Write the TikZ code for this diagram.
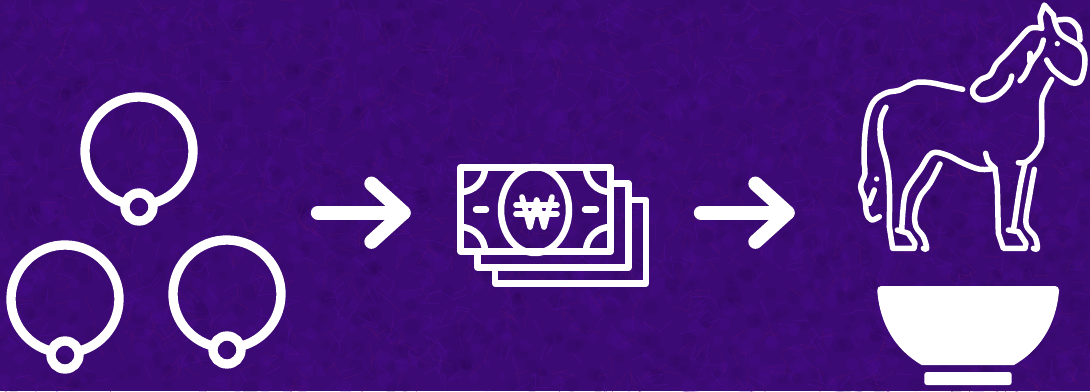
\documentclass[tikz,border=0pt]{standalone}
\usepackage{tikz}
\usetikzlibrary{positioning}
\definecolor{feltbase}{HTML}{3C0A74}
\definecolor{feltdark}{HTML}{280650}
\definecolor{feltlight}{HTML}{5410A0}
\definecolor{feltred}{HTML}{5C1070}
\begin{document}
\begin{tikzpicture}[x=0.03cm, y=-0.03cm, line cap=round, line join=round,
    ringline/.style={draw=white, line width=0.28cm},
    beadline/.style={draw=white, line width=0.28cm},
    flowline/.style={draw=white, line width=0.43cm},
    billline/.style={draw=white, line width=0.195cm},
    wonline/.style={draw=white, line width=0.17cm},
    horseline/.style={draw=white, line width=0.165cm},
    fibre/.style={line width=0.6pt, opacity=0.45},
    blotch/.style={opacity=0.16}]
% ---------------- background ----------------
\fill[feltbase] (0,0) rectangle (1090,391);
\useasboundingbox (0,0) rectangle (1090,391);
\pgfmathsetseed{41}
\begin{scope}
  \clip (0,0) rectangle (1090,391);
  \foreach \i in {1,...,1800} {
    \pgfmathsetmacro{\fx}{rnd*1090}
    \pgfmathsetmacro{\fy}{rnd*391}
    \pgfmathsetmacro{\fr}{3+rnd*5}
    \ifodd\i \def\fc{feltdark}\else \def\fc{feltlight}\fi
    \fill[blotch, fill=\fc] (\fx,\fy) circle (\fr);
  }
  \foreach \i in {1,...,1800} {
    \pgfmathsetmacro{\fx}{rnd*1090}
    \pgfmathsetmacro{\fy}{rnd*391}
    \pgfmathsetmacro{\fa}{rnd*360}
    \pgfmathsetmacro{\fb}{\fa+rnd*120-60}
    \ifodd\i \def\fc{feltred}\else \def\fc{feltlight}\fi
    \draw[fibre, draw=\fc] (\fx,\fy) .. controls +(\fa:6) and +(\fb:6) .. +(\fa:14);
  }
\end{scope}
% ---------------- rings (left) ----------------
\foreach \cx/\cy in {139/151, 65/299, 227/294} {
  \draw[ringline] (\cx,\cy) ++(108:54) arc[start angle=108, end angle=432, radius=54];
  \draw[beadline] (\cx,\cy+56) circle (14);
}
% ---------------- arrows ----------------
\coordinate (ringsout) at (318,212.7);
\coordinate (billsin) at (403.5,212.7);
\coordinate (billsout) at (701,212.7);
\coordinate (horsein) at (787.5,212.7);
\draw[flowline] (ringsout) -- (billsin);
\draw[flowline] (billsin) ++(-32,-29) -- (billsin) -- ++(-32,29);
\draw[flowline] (billsout) -- (horsein);
\draw[flowline] (horsein) ++(-32,-29) -- (horsein) -- ++(-32,29);
% ---------------- bills (middle) ----------------
\draw[billline] (460.5,167.5) rectangle (610.5,251.5);
\draw[billline] (611,183.5) -- (628.5,183.5) -- (628.5,267.5) -- (477.5,267.5) -- (477.5,252);
\draw[billline] (629,200) -- (646,200) -- (646,283.5) -- (495,283.5) -- (495,268);
\draw[billline] (535,210) ellipse (34 and 43);
% corner arcs
\draw[billline] (485,167.5) arc[start angle=0, end angle=90, radius=24.5];
\draw[billline] (586,167.5) arc[start angle=180, end angle=90, radius=24.5];
\draw[billline] (485,251.5) arc[start angle=0, end angle=-90, radius=24.5];
\draw[billline] (586,251.5) arc[start angle=180, end angle=270, radius=24.5];
% side dashes
\draw[billline] (476,209.5) -- (486,209.5);
\draw[billline] (585,209.5) -- (596,209.5);
% won sign
\draw[wonline] (522,197) -- (530,227) -- (536.7,200) -- (544,227) -- (552,197);
\draw[wonline] (516,205) -- (557,205);
\draw[wonline] (516,214) -- (557,214);
% ---------------- horse (right) ----------------
\begin{scope}[shift={(840,0)}, scale=1/3]
  % back and tail
  \draw[horseline] plot[smooth, tension=0.6] coordinates {(368,268) (320,258) (270,248) (225,248) (180,270) (140,278) (105,300) (85,340) (75,400) (72,480) (75,520) (62,560) (75,600) (80,640) (95,660) (118,650)};
  \draw[horseline] (103,570) -- (88,610);
  \fill[white] (110,537) circle (8);
  % hind leg, outer
  \draw[horseline] plot[smooth, tension=0.6] coordinates {(138,322) (122,360) (122,420) (140,490) (148,560) (148,680)};
  \draw[horseline] (148,680) -- (158,745) -- (222,745) -- (225,730) -- (205,700) -- (172,690);
  % belly and near hind leg
  \draw[horseline] plot[smooth, tension=0.6] coordinates {(185,690) (192,600) (205,560) (240,510) (275,460) (320,465) (370,490) (420,508) (465,505)};
  \draw[horseline] (465,505) -- (472,560) -- (475,700) -- (490,745) -- (555,745) -- (558,730) -- (535,695) -- (505,690);
  \draw[horseline] plot[smooth, tension=0.6] coordinates {(437,460) (445,485) (465,505)};
  % far hind leg
  \draw[horseline] plot[smooth, tension=0.6] coordinates {(300,492) (270,550) (240,590) (225,640) (228,680) (250,710) (260,745) (250,745)};
  % chest and front leg
  \draw[horseline] plot[smooth, tension=0.6] coordinates {(535,488) (560,485) (590,455) (605,415) (605,310) (615,275) (635,238)};
  \draw[horseline] plot[smooth, tension=0.6] coordinates {(555,490) (540,560) (525,660) (520,690)};
  \draw[horseline] plot[smooth, tension=0.6] coordinates {(583,508) (570,580) (558,670) (585,710) (592,745) (580,745)};
  % mane
  \draw[horseline] plot[smooth, tension=0.6] coordinates {(515,228) (505,255) (470,288) (430,300) (405,290) (398,268) (420,240) (450,225) (470,190) (500,160) (535,120) (570,85) (605,85)};
  \draw[horseline] plot[smooth, tension=0.6] coordinates {(610,120) (600,150) (575,185) (555,225) (540,242)};
  \draw[horseline] (570,160) -- (570,185);
  % head
  \draw[horseline] (605,85) -- (600,50) -- (613,15) -- (640,45);
  \draw[horseline] plot[smooth, tension=0.6] coordinates {(640,45) (660,100) (720,140) (735,180) (725,235) (705,250) (680,240) (640,210) (620,180)};
  \draw[horseline] plot[smooth, tension=0.6] coordinates {(655,60) (690,60) (715,85) (720,120)};
  \fill[white] (652,131) circle (8);
\end{scope}
% ---------------- bowl (right) ----------------
\fill[white, rounded corners=0.12cm] (877.3,286) -- (1059,286) [sharp corners] -- (1059,291)
  .. controls (1056,325) and (1040,350) .. (1014,365) -- (921.7,365)
  .. controls (896,350) and (880,325) .. (877.3,291) [rounded corners=0.12cm] -- cycle;
\fill[white, rounded corners=0.08cm] (924.3,372) rectangle (1011.7,385);
\end{tikzpicture}
\end{document}
